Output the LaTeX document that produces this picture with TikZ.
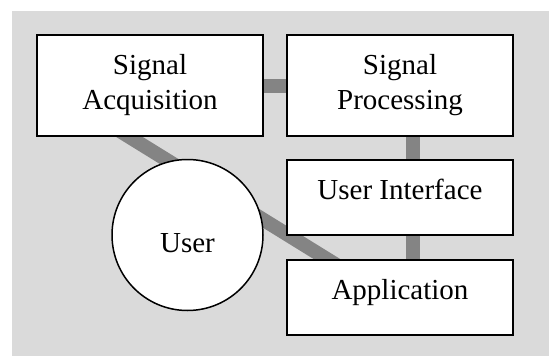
\documentclass[tikz,border=0pt]{standalone}
\usepackage{fontspec}
\setmainfont{Liberation Serif}
\usetikzlibrary{calc,backgrounds}
\definecolor{bggray}{RGB}{218,218,218}
\definecolor{linkgray}{RGB}{132,132,132}
\tikzset{
  box/.style={draw=black, line width=1.6pt, fill=white, minimum width=226pt, inner sep=0pt,
    font=\fontsize{29}{35}\selectfont, align=center},
  onebox/.style={box, minimum height=75pt, text height=20pt, text depth=17pt},
  twobox/.style={box, minimum height=101pt},
  usercircle/.style={circle, draw=black, line width=1.5pt, fill=white, minimum size=151pt, inner sep=0pt,
    font=\fontsize{29}{35}\selectfont, text height=34pt, text depth=0pt},
  link/.style={draw=linkgray, line width=14pt}
}
\begin{document}
\begin{tikzpicture}[x=1pt,y=-1pt]
\useasboundingbox (0,0) rectangle (549,356);
\node[twobox] (SA) at (150,85.5) {Signal\\Acquisition};
\node[twobox] (SP) at (400,85.5) {Signal\\Processing};
\node[onebox] (UI) at (400,197.5) {User Interface};
\node[onebox] (App) at (400,297.5) {Application};
\node[usercircle] (User) at (187.5,235) {User};
\begin{pgfonlayer}{background}
\fill[bggray] (12,11) rectangle (549,356);
\draw[link] (SA.east) -- (SP.west);
\draw[link] ($(SP.south)+(13,0)$) -- ($(UI.north)+(13,0)$);
\draw[link] ($(UI.south)+(13,0)$) -- ($(App.north)+(13,0)$);
\draw[link, shorten <=-12pt, shorten >=-12pt] ($(SA.south west)+(93,0)$) -- ($(App.north west)+(41,0)$);
\end{pgfonlayer}
\end{tikzpicture}
\end{document}
